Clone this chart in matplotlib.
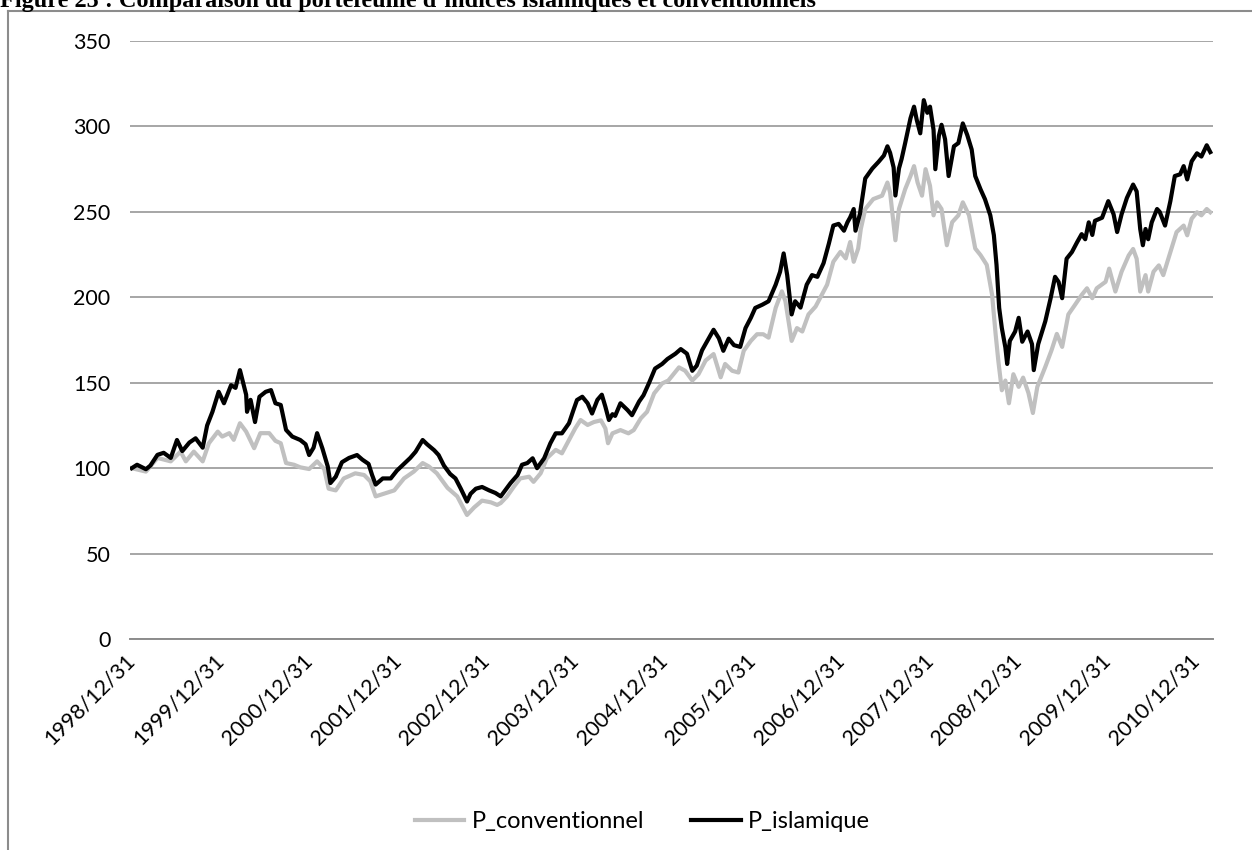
import matplotlib
matplotlib.use("Agg")
import matplotlib.pyplot as plt
from matplotlib.lines import Line2D

plt.rcParams['font.family'] = ['Lato', 'DejaVu Sans']

# x = years after 1998/12/31
t_isl = [0.00, 0.06, 0.16, 0.21, 0.29, 0.36, 0.44, 0.51, 0.57, 0.65, 0.72, 0.80, 0.85, 0.91, 0.98,
         1.04, 1.12, 1.17, 1.22, 1.29, 1.30, 1.34, 1.39, 1.44, 1.51, 1.57, 1.62, 1.68, 1.74, 1.81,
         1.90, 1.96, 2.00, 2.05, 2.09, 2.15, 2.21, 2.24, 2.30, 2.37, 2.45, 2.54, 2.60, 2.67, 2.71,
         2.75, 2.83, 2.92, 2.99, 3.07, 3.14, 3.20, 3.28, 3.33, 3.41, 3.46, 3.52, 3.59, 3.65, 3.71,
         3.78, 3.82, 3.88, 3.95, 4.03, 4.10, 4.16, 4.21, 4.27, 4.35, 4.40, 4.46, 4.52, 4.57, 4.65,
         4.72, 4.78, 4.85, 4.93, 4.98, 5.02, 5.08, 5.14, 5.19, 5.25, 5.30, 5.34, 5.38, 5.42, 5.45,
         5.51, 5.59, 5.64, 5.72, 5.77, 5.83, 5.90, 5.98, 6.04, 6.13, 6.19, 6.26, 6.32, 6.37, 6.43,
         6.49, 6.56, 6.62, 6.67, 6.73, 6.79, 6.86, 6.92, 6.98, 7.03, 7.11, 7.18, 7.26, 7.31, 7.35,
         7.39, 7.44, 7.48, 7.54, 7.61, 7.67, 7.73, 7.80, 7.86, 7.91, 7.97, 8.03, 8.07, 8.10, 8.14,
         8.16, 8.21, 8.27, 8.35, 8.42, 8.48, 8.52, 8.55, 8.59, 8.61, 8.65, 8.68, 8.72, 8.78, 8.82,
         8.85, 8.89, 8.93, 8.97, 9.00, 9.04, 9.06, 9.10, 9.13, 9.17, 9.21, 9.27, 9.32, 9.37, 9.42,
         9.47, 9.51, 9.57, 9.62, 9.68, 9.72, 9.75, 9.78, 9.81, 9.85, 9.87, 9.90, 9.96, 10.00, 10.04,
         10.10, 10.15, 10.17, 10.22, 10.30, 10.36, 10.41, 10.45, 10.49, 10.54, 10.60, 10.66, 10.71,
         10.75, 10.79, 10.83, 10.86, 10.94, 11.01, 11.07, 11.11, 11.16, 11.22, 11.29, 11.33, 11.37,
         11.40, 11.43, 11.46, 11.50, 11.56, 11.59, 11.65, 11.71, 11.76, 11.82, 11.86, 11.90, 11.95,
         12.01, 12.06, 12.12, 12.16]
p_isl = [100, 102, 99.4, 101.5, 107.8, 109, 106, 116.5, 110, 115, 117.5, 112, 125, 133, 144.7,
         138, 148.6, 147, 157.4, 143, 133, 140, 127, 141.8, 144.7, 145.7, 138, 137, 122.4, 118.5,
         116.5, 114, 107.7, 112, 120.5, 111.5, 101, 91.3, 95, 103.5, 106, 107.7, 105, 102.5, 96,
         90.4, 94, 94, 98.6, 102.5, 106, 109.6, 116.5, 114, 110.5, 107.7, 101.5, 96.6, 94, 88,
         80.5, 85, 88, 89, 87, 85.5, 83.5, 87, 91.2, 96, 102, 103, 105.8, 100, 105.8,
         114.6, 120.4, 120.4, 126.3, 134, 139.9, 141.8, 138, 132, 140, 143, 136, 128.2, 131.6, 130.6,
         138, 134, 131, 139, 142.7, 149.6, 158.3, 161, 163.9, 167, 169.7, 167, 157, 160, 169,
         174.5, 181, 176, 168.7, 175.8, 172, 171, 182, 188, 193.8, 195.7, 197.7, 207.4, 215, 225.7,
         213, 190, 197.7, 194, 207.4, 213, 212, 220, 231.5, 242, 243, 239, 244, 246.8, 251.7,
         239, 248.8, 269.6, 275.4, 279.3, 283, 288.4, 284.6, 276, 259.6, 275.4, 281, 290.3, 304.8, 311.6,
         304, 296, 315.4, 308, 311.6, 298, 275, 294.5, 301, 292.5, 271, 288.4, 290.3, 301.8, 295,
         286.5, 271, 263.2, 257.4, 248, 236.4, 219, 193.8, 182, 170.6, 161, 174.5, 180, 188, 174,
         180, 172.6, 157.4, 172.6, 186, 199.5, 212, 209, 199.5, 222.6, 226.5, 232.4, 237,
         234, 243.9, 236.5, 244.8, 246.6, 256.3, 248.6, 238.2, 248.6, 258.2, 266, 262, 240,
         230.5, 240, 234, 243.9, 251.7, 250, 242, 256.3, 271, 272, 276.8, 269, 279.6,
         284.3, 282.4, 289, 285]

t_conv = [0.00, 0.16, 0.29, 0.44, 0.55, 0.61, 0.70, 0.80, 0.87, 0.97, 1.02, 1.10, 1.15, 1.22, 1.29,
          1.38, 1.45, 1.55, 1.62, 1.68, 1.74, 1.83, 1.90, 2.00, 2.09, 2.17, 2.22, 2.30, 2.39, 2.52,
          2.62, 2.69, 2.75, 2.84, 2.96, 3.07, 3.18, 3.28, 3.35, 3.44, 3.56, 3.67, 3.78, 3.86, 3.95,
          4.05, 4.12, 4.16, 4.23, 4.31, 4.38, 4.48, 4.53, 4.61, 4.68, 4.78, 4.85, 4.93, 5.00, 5.06,
          5.14, 5.21, 5.29, 5.34, 5.37, 5.42, 5.51, 5.60, 5.66, 5.74, 5.81, 5.89, 5.98, 6.05, 6.17,
          6.24, 6.32, 6.39, 6.47, 6.56, 6.64, 6.69, 6.77, 6.84, 6.90, 6.98, 7.05, 7.12, 7.18, 7.26,
          7.33, 7.37, 7.44, 7.50, 7.56, 7.63, 7.71, 7.78, 7.84, 7.91, 7.99, 8.05, 8.10, 8.14, 8.19,
          8.22, 8.27, 8.36, 8.46, 8.52, 8.55, 8.61, 8.65, 8.72, 8.78, 8.82, 8.86, 8.91, 8.95, 9.00,
          9.04, 9.08, 9.13, 9.19, 9.25, 9.32, 9.37, 9.44, 9.51, 9.57, 9.64, 9.70, 9.74, 9.77, 9.81,
          9.85, 9.89, 9.94, 10.00, 10.05, 10.11, 10.16, 10.21, 10.30, 10.37, 10.43, 10.49, 10.56,
          10.64, 10.71, 10.77, 10.83, 10.88, 10.98, 11.02, 11.09, 11.16, 11.24, 11.29, 11.33, 11.37,
          11.43, 11.46, 11.52, 11.58, 11.63, 11.71, 11.78, 11.86, 11.90, 11.95, 12.01, 12.06, 12.12,
          12.16]
p_conv = [100, 98, 106, 104, 109.7, 104, 109.7, 104, 114.6, 121.4, 118.5, 120.5, 116.6, 126.3, 121.4,
          111.7, 120.5, 120.5, 116, 114.6, 103, 102, 100.5, 99.5, 104, 99.5, 88, 87, 94, 97,
          96, 92.3, 83.5, 85, 87, 94, 98, 103, 101, 97, 88.5, 83.5, 72.6, 77, 81,
          80, 78.5, 79.6, 83.4, 89.3, 94, 95, 92, 97, 105.8, 110.7, 108.7, 116.5, 123.3, 128.2,
          125.3, 127, 128, 123.3, 114.6, 120.4, 122.3, 120.4, 122.3, 129.2, 133, 143.8, 149.6, 151.3, 159,
          157, 151.3, 155, 163, 166.8, 153.2, 161, 157, 156, 168.7, 174.5, 178.4, 178.4, 176.4, 193.8,
          203.5, 197.7, 174.5, 182, 180, 190, 194.6, 201.5, 207.4, 220.8, 226.6, 222.8, 232.4, 220.8, 228.5,
          240, 251.7, 257.5, 259.5, 267.2, 261.4, 233.4, 251.7, 263.3, 271, 276.8, 267.2, 259.5, 275, 265.3,
          248, 255.6, 251.7, 230.5, 244, 248, 255.6, 248, 228.6, 224.7, 219, 201.5, 178.4, 163, 145.6,
          151.3, 138, 155, 147.6, 153, 144, 132.3, 147.6, 159.3, 169, 178.6, 171, 190,
          196, 201.4, 205.3, 199.5, 205.3, 209.1, 216.8, 203.4, 215, 224.5, 228.3, 222.6, 203.4,
          213, 203.4, 215, 218.7, 213, 226.4, 238.2, 242, 236.3, 246, 249.8, 248, 251.7,
          249.8]

date_labels = ['1998/12/31', '1999/12/31', '2000/12/31', '2001/12/31', '2002/12/31', '2003/12/31',
               '2004/12/31', '2005/12/31', '2006/12/31', '2007/12/31', '2008/12/31', '2009/12/31',
               '2010/12/31']
y_ticks = [0, 50, 100, 150, 200, 250, 300, 350]

fig = plt.figure(figsize=(12.52, 8.5), dpi=100)
ax = fig.add_axes([0.1038, 0.2482, 0.865, 0.7035])

ax.plot(t_conv, p_conv, color='#c0c0c0', lw=3.0, label='P_conventionnel', zorder=3)
ax.plot(t_isl, p_isl, color='black', lw=3.0, label='P_islamique', zorder=4)

ax.set_ylim(0, 350)
ax.set_xlim(-0.02, 12.19)
ax.set_yticks(y_ticks)
ax.set_xticks(range(len(date_labels)))
ax.set_xticklabels(date_labels, rotation=45, ha='right', va='center', rotation_mode='anchor')
ax.tick_params(axis='both', length=0, labelsize=15.5, colors='black')
ax.tick_params(axis='y', pad=14)
ax.tick_params(axis='x', pad=13)
ax.grid(axis='y', color='#a6a6a6', lw=1.4)
ax.set_axisbelow(True)
for s in ['left', 'right', 'top']:
    ax.spines[s].set_visible(False)
ax.spines['bottom'].set_color('#8c8c8c')
ax.spines['bottom'].set_linewidth(1.4)

leg = fig.legend(loc='center', bbox_to_anchor=(0.513, 0.033), ncol=2, frameon=False,
                 fontsize=17, handlelength=2.1, handletextpad=0.3, columnspacing=2.0)

# chart frame (only left and top visible)
fig.add_artist(Line2D([8 / 1252, 8 / 1252], [0, 1 - 11 / 850], color='#8c8c8c', lw=1.5))
fig.add_artist(Line2D([8 / 1252, 1], [1 - 11 / 850, 1 - 11 / 850], color='#8c8c8c', lw=1.5))

# figure caption, cut at the top of the page as in the source
fig.text(0.0, 1 - 7 / 850, "Figure 25 : Comparaison du portefeuille d\u2019indices islamiques et conventionnels",
         family='Liberation Serif', weight='bold', fontsize=17.5, va='baseline', ha='left')

fig.savefig('out.png', dpi=100)
